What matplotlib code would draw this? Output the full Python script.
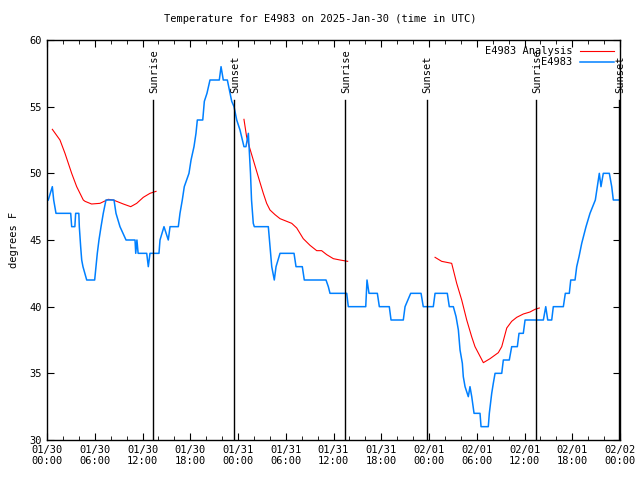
import numpy as np
import matplotlib
matplotlib.use("Agg")
import matplotlib.pyplot as plt
from matplotlib.ticker import MultipleLocator

# hours since 2025-01-30 00:00 UTC
obs_hours = [0.16, 0.67, 0.84, 1.13, 2.98, 3.1, 3.5, 3.6, 4.0, 4.06, 4.23, 4.36, 4.52, 4.99, 5.99,
             6.16, 6.32, 6.53, 6.79, 7.07, 7.41, 8.42, 8.67, 9.17, 9.93, 11.06, 11.15, 11.3, 11.45,
             12.53, 12.73, 12.94, 14.07, 14.2, 14.7, 15.24, 15.46, 16.5, 16.71, 17.0, 17.25, 17.84,
             18.1, 18.47, 18.72, 18.89, 19.57, 19.77, 20.1, 20.48, 21.65, 21.87, 22.15, 22.66, 23.0,
             23.21, 23.5, 23.84, 24.25, 24.75, 25.0, 25.3, 25.57, 25.7, 25.92, 26.05, 27.81, 28.02,
             28.24, 28.56, 28.78, 29.28, 31.04, 31.29, 32.08, 32.33, 35.06, 35.35, 35.56, 37.66,
             37.86, 40.05, 40.21, 40.46, 41.51, 41.76, 43.01, 43.23, 44.77, 44.99, 45.7, 47.0,
             47.28, 48.54, 48.76, 50.3, 50.55, 51.06, 51.4, 51.69, 51.9, 52.19, 52.31, 52.53,
             52.94, 53.15, 53.37, 53.66, 54.41, 54.54, 55.45, 55.58, 55.88, 56.08, 56.3, 57.14,
             57.34, 58.09, 58.39, 59.1, 59.31, 59.85, 60.07, 62.37, 62.67, 62.92, 63.42, 63.62,
             64.88, 65.13, 65.63, 65.81, 66.35, 66.56, 66.85, 67.19, 67.52, 67.73, 68.23, 68.9,
             69.4, 69.61, 69.9, 70.66, 70.96, 71.16, 71.91]
obs_temps = [48, 49, 48, 47, 47, 46, 46, 47, 47, 46, 44.5, 43.5, 43, 42, 42,
             43, 44, 45, 46, 47, 48, 48, 47, 46, 45, 45, 44, 45, 44,
             44, 43, 44, 44, 45, 46, 45, 46, 46, 47, 48, 49, 50,
             51, 52, 53, 54, 54, 55.4, 56, 57, 57, 58, 57, 57, 56,
             55.4, 55, 54, 53.25, 52, 52, 53, 50, 48, 46.25, 46, 46, 44.5,
             43, 42, 43, 44, 44, 43, 43, 42, 42, 41.5, 41, 41,
             40, 40, 42, 41, 41, 40, 40, 39, 39, 40, 41, 41,
             40, 40, 41, 41, 40, 40, 39.25, 38.25, 36.75, 35.75, 34.75, 34,
             33.25, 34, 33.25, 32, 32, 31, 31, 32, 33.5, 34.25, 35, 35,
             36, 36, 37, 37, 38, 38, 39, 39, 40, 39, 39, 40,
             40, 41, 41, 42, 42, 43, 43.75, 44.75, 45.5, 46, 47, 48,
             50, 49, 50, 50, 49, 48, 48]

# analysis series, NaN marks gaps between runs
ana_hours = [0.67, 1.63, 2.26, 3.1, 3.73, 4.56, 4.78, 5.6, 6.66, 7.7, 8.33, 9.59, 10.52, 11.27,
             12.1, 12.94, 13.7, 19.0,
             24.75, 25.08, 25.42, 26.67, 27.18, 27.6, 28.02, 28.65, 29.28, 30.12, 30.75, 31.38,
             32.2, 33.05, 33.89, 34.51, 35.15, 35.98, 36.82, 37.78, 43.0,
             48.76, 49.59, 50.85, 51.48, 52.11, 52.74, 53.36, 53.78, 54.83, 55.67, 56.71, 57.14,
             57.77, 58.39, 59.02, 59.85, 60.69, 61.32, 61.86]
ana_temps = [53.3, 52.5, 51.5, 50, 49, 48, 47.9, 47.7, 47.75, 48.05, 48, 47.7, 47.5, 47.75,
             48.2, 48.5, 48.65, np.nan,
             54.05, 52.75, 52, 49.5, 48.5, 47.75, 47.25, 46.9, 46.6, 46.4, 46.25, 45.9,
             45.1, 44.6, 44.2, 44.2, 43.9, 43.6, 43.5, 43.4, np.nan,
             43.7, 43.4, 43.25, 41.75, 40.5, 39, 37.75, 37, 35.8, 36.1, 36.55, 37,
             38.4, 38.9, 39.2, 39.45, 39.6, 39.8, 39.9]

sun_hours = [13.32, 23.54, 37.49, 47.71, 61.49, 71.88]
sun_labels = ["Sunrise", "Sunset", "Sunrise", "Sunset", "Sunrise", "Sunset"]

tick_labels = ["01/30\n00:00", "01/30\n06:00", "01/30\n12:00", "01/30\n18:00",
               "01/31\n00:00", "01/31\n06:00", "01/31\n12:00", "01/31\n18:00",
               "02/01\n00:00", "02/01\n06:00", "02/01\n12:00", "02/01\n18:00",
               "02/02\n00:00"]

mono = "DejaVu Sans Mono"
plt.rcParams["font.family"] = mono
plt.rcParams["font.size"] = 7

fig = plt.figure(figsize=(6.4, 4.8), dpi=100)
ax = fig.add_axes([47 / 640, 40 / 480, 573 / 640, 400 / 480])

ax.plot(ana_hours, ana_temps, color="#ff0000", lw=0.8, label="E4983 Analysis")
ax.plot(obs_hours, obs_temps, color="#0080ff", lw=1.1, label="E4983")

for h, lab in zip(sun_hours, sun_labels):
    ax.plot([h, h], [30, 55.5], color="black", lw=1.0)
    ax.text(h + 0.1, 56.0, lab, rotation=90, ha="center", va="bottom", fontsize=7.5)

ax.set_xlim(0, 72)
ax.set_ylim(30, 60)
ax.set_xticks(np.arange(0, 73, 6))
ax.set_xticklabels(tick_labels)
ax.xaxis.set_minor_locator(MultipleLocator(2))
ax.yaxis.set_major_locator(MultipleLocator(5))
ax.tick_params(which="both", direction="in", top=True, right=True, labelsize=7.5)
ax.tick_params(which="major", length=5)
ax.tick_params(which="minor", length=3)
for s in ax.spines.values():
    s.set_linewidth(1.0)

ax.set_ylabel("degrees F", fontsize=7.5, labelpad=8)
fig.text(0.5, 1 - 19 / 480, "Temperature for E4983 on 2025-Jan-30 (time in UTC)",
         ha="center", va="center", fontsize=7.5)

leg = ax.legend(loc="upper right", frameon=False, markerfirst=False, fontsize=7.5,
                handlelength=3.2, borderaxespad=0.2, labelspacing=0.1)
for t in leg.get_texts():
    t.set_ha("right")

fig.savefig("out.png", dpi=100)
